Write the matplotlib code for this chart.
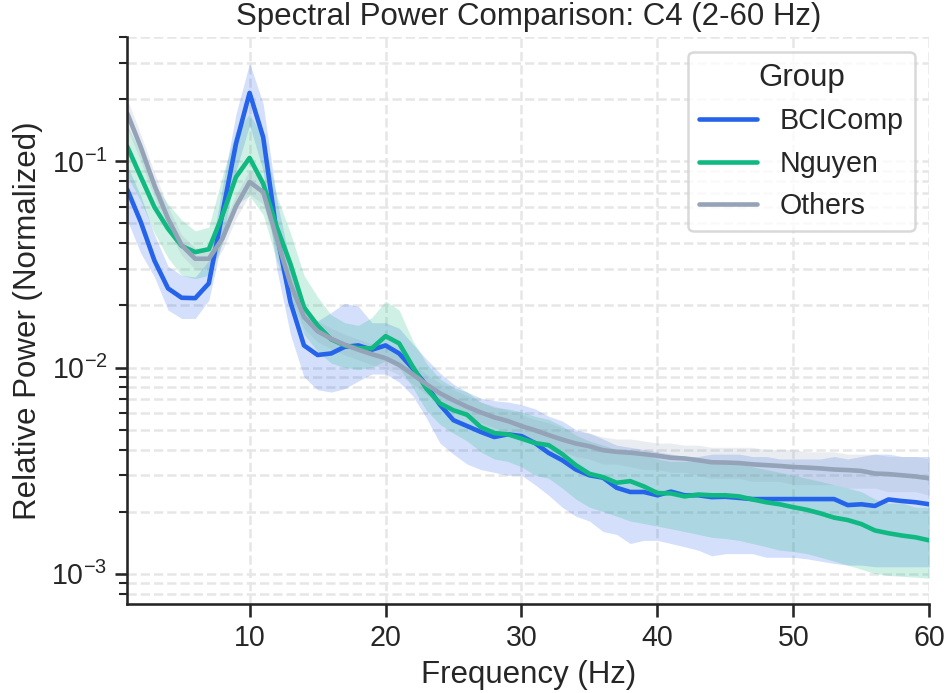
import numpy as np
import matplotlib
matplotlib.use("Agg")
import matplotlib.pyplot as plt
import seaborn as sns

# frequency grid (Hz)
freqs = np.arange(1, 61)

groups = ["BCIComp", "Nguyen", "Others"]
colors = {"BCIComp": "#2563eb", "Nguyen": "#10b981", "Others": "#94a3b8"}

# mean relative power
bci_mean = [0.073, 0.0507, 0.033, 0.0242, 0.0218, 0.0217, 0.0256, 0.056, 0.122, 0.215,
            0.131, 0.0447, 0.0208, 0.0128, 0.0115, 0.0117, 0.0126, 0.0128, 0.0122, 0.0128,
            0.0117, 0.0099, 0.0082, 0.0066, 0.00555, 0.0052, 0.00487, 0.0046, 0.00474, 0.00465,
            0.0043, 0.00385, 0.00355, 0.0032, 0.0030, 0.00292, 0.00261, 0.00249, 0.00249, 0.0024,
            0.0025, 0.0024, 0.0024, 0.00235, 0.00236, 0.00233, 0.0023, 0.0023, 0.0023, 0.0023,
            0.0023, 0.0023, 0.0023, 0.00215, 0.00217, 0.00213, 0.00229, 0.00225, 0.00222, 0.00217]
bci_lo = [0.052, 0.0358, 0.0275, 0.019, 0.0173, 0.0173, 0.0212, 0.042, 0.09, 0.15,
          0.09, 0.030, 0.0145, 0.009, 0.0078, 0.0076, 0.0079, 0.0086, 0.0093, 0.0093,
          0.0085, 0.0073, 0.0057, 0.0043, 0.0038, 0.0034, 0.0032, 0.0031, 0.0030, 0.0030,
          0.0027, 0.0024, 0.0021, 0.0019, 0.0018, 0.0016, 0.00155, 0.0014, 0.00145, 0.00145,
          0.0014, 0.00135, 0.0013, 0.00122, 0.00125, 0.00125, 0.00125, 0.0012, 0.0012, 0.0012,
          0.00118, 0.00115, 0.00112, 0.0011, 0.0011, 0.00108, 0.00108, 0.00108, 0.00108, 0.00108]
bci_hi = [0.095, 0.068, 0.044, 0.031, 0.028, 0.0275, 0.033, 0.075, 0.17, 0.30,
          0.19, 0.065, 0.032, 0.019, 0.0168, 0.0185, 0.0205, 0.0198, 0.0165, 0.0165,
          0.0155, 0.013, 0.011, 0.0094, 0.0083, 0.0076, 0.0071, 0.0069, 0.0068, 0.0066,
          0.0063, 0.0058, 0.0055, 0.0050, 0.0048, 0.0045, 0.0042, 0.0041, 0.0040, 0.0039,
          0.0038, 0.0037, 0.0037, 0.0038, 0.0038, 0.0038, 0.0037, 0.0037, 0.0036, 0.0036,
          0.0036, 0.0036, 0.0037, 0.0036, 0.0037, 0.0038, 0.0038, 0.0037, 0.0037, 0.0037]

ngu_mean = [0.118, 0.084, 0.060, 0.0471, 0.0389, 0.0363, 0.0375, 0.0547, 0.084, 0.104,
            0.078, 0.048, 0.0319, 0.0196, 0.016, 0.0137, 0.0128, 0.0124, 0.0124, 0.0142,
            0.0131, 0.0101, 0.0079, 0.0067, 0.0062, 0.0059, 0.00514, 0.00481, 0.00474, 0.00452,
            0.0043, 0.0042, 0.0038, 0.00336, 0.00305, 0.00294, 0.00276, 0.00281, 0.00265, 0.00246,
            0.00245, 0.00237, 0.00242, 0.0024, 0.0024, 0.00237, 0.00229, 0.00222, 0.00217, 0.0021,
            0.00204, 0.00196, 0.00187, 0.00182, 0.00174, 0.00162, 0.00157, 0.00153, 0.0015, 0.00145]
ngu_lo = [0.085, 0.064, 0.045, 0.034, 0.028, 0.027, 0.028, 0.040, 0.062, 0.068,
          0.055, 0.033, 0.022, 0.0145, 0.012, 0.0105, 0.0100, 0.0098, 0.0100, 0.0108,
          0.0100, 0.0080, 0.0062, 0.0053, 0.0048, 0.0044, 0.0039, 0.0036, 0.0035, 0.0033,
          0.0030, 0.0029, 0.0026, 0.0023, 0.0021, 0.0020, 0.0019, 0.0018, 0.00175, 0.0017,
          0.00165, 0.0016, 0.00155, 0.0015, 0.00148, 0.00145, 0.0014, 0.00135, 0.0013, 0.00128,
          0.00125, 0.0012, 0.00115, 0.0011, 0.00105, 0.0010, 0.00098, 0.00097, 0.00096, 0.00095]
ngu_hi = [0.15, 0.11, 0.078, 0.062, 0.052, 0.046, 0.048, 0.085, 0.14, 0.17,
          0.13, 0.068, 0.045, 0.028, 0.022, 0.018, 0.0165, 0.016, 0.0175, 0.021,
          0.019, 0.0135, 0.0105, 0.0088, 0.0080, 0.0076, 0.0068, 0.0064, 0.0063, 0.0061,
          0.0058, 0.0056, 0.0052, 0.0047, 0.0044, 0.0042, 0.0040, 0.0040, 0.0038, 0.0036,
          0.0035, 0.0035, 0.0035, 0.0035, 0.0035, 0.0034, 0.0033, 0.0032, 0.0031, 0.0030,
          0.0029, 0.0028, 0.0027, 0.0026, 0.0025, 0.0023, 0.0022, 0.0022, 0.0021, 0.0021]

oth_mean = [0.171, 0.117, 0.0765, 0.0527, 0.0392, 0.0337, 0.0337, 0.0422, 0.0605, 0.0794,
            0.071, 0.0422, 0.0255, 0.0176, 0.0150, 0.0138, 0.0129, 0.0122, 0.0116, 0.0111,
            0.0103, 0.00927, 0.0083, 0.0075, 0.00693, 0.00645, 0.00606, 0.00573, 0.0055, 0.0052,
            0.00496, 0.0047, 0.00447, 0.00428, 0.00415, 0.00397, 0.0039, 0.00386, 0.0038, 0.00373,
            0.00365, 0.00362, 0.00355, 0.00347, 0.00346, 0.00344, 0.00339, 0.00336, 0.00333, 0.00329,
            0.00327, 0.00324, 0.0032, 0.00318, 0.00315, 0.00306, 0.00304, 0.0030, 0.00296, 0.0029]
oth_lo = [0.145, 0.10, 0.066, 0.046, 0.035, 0.030, 0.030, 0.037, 0.053, 0.069,
          0.062, 0.036, 0.022, 0.0155, 0.0133, 0.0123, 0.0115, 0.0109, 0.0103, 0.0099,
          0.0092, 0.0083, 0.0074, 0.0067, 0.0062, 0.0057, 0.0054, 0.0051, 0.0049, 0.0046,
          0.0044, 0.0041, 0.0039, 0.0037, 0.0036, 0.0034, 0.0034, 0.0033, 0.0032, 0.0032,
          0.0031, 0.0031, 0.0030, 0.0029, 0.0029, 0.0029, 0.0028, 0.0028, 0.0028, 0.0027,
          0.0027, 0.0027, 0.0027, 0.0026, 0.0026, 0.0026, 0.0025, 0.0025, 0.0025, 0.0024]
oth_hi = [0.20, 0.135, 0.088, 0.060, 0.044, 0.038, 0.038, 0.048, 0.069, 0.091,
          0.081, 0.049, 0.029, 0.020, 0.0168, 0.0155, 0.0145, 0.0137, 0.013, 0.0125,
          0.0116, 0.0104, 0.0093, 0.0084, 0.0078, 0.0073, 0.0068, 0.0065, 0.0062, 0.0059,
          0.0056, 0.0054, 0.0051, 0.0049, 0.0048, 0.0046, 0.0045, 0.0045, 0.0044, 0.0043,
          0.0043, 0.0042, 0.0042, 0.0041, 0.0041, 0.0041, 0.0041, 0.0040, 0.0040, 0.0040,
          0.0039, 0.0039, 0.0039, 0.0038, 0.0038, 0.0038, 0.0037, 0.0037, 0.0037, 0.0036]

series = {
    "BCIComp": (bci_mean, bci_lo, bci_hi),
    "Nguyen": (ngu_mean, ngu_lo, ngu_hi),
    "Others": (oth_mean, oth_lo, oth_hi),
}

sns.set_theme(style="ticks", context="notebook", font_scale=1.25)
plt.rcParams["font.family"] = ["Arial", "Liberation Sans", "DejaVu Sans"]

fig, ax = plt.subplots(figsize=(949 / 150, 693 / 150), dpi=150)
fig.subplots_adjust(left=0.1341, right=0.9792, top=0.9462, bottom=0.128)

for g in groups:
    m, lo, hi = series[g]
    ax.fill_between(freqs, lo, hi, color=colors[g], alpha=0.2, linewidth=0)
    ax.plot(freqs, m, color=colors[g], lw=2.2, label=g)

ax.set_yscale("log")
ax.set_xlim(1, 60)
ax.set_ylim(7.1e-4, 0.4)
ax.set_xticks([10, 20, 30, 40, 50, 60])

ax.grid(True, which="major", axis="both", linestyle="--", color="#e6e6e6", lw=1.2)
ax.grid(True, which="minor", axis="y", linestyle="--", color="#e6e6e6", lw=1.2)
ax.set_axisbelow(True)

ax.set_title("Spectral Power Comparison: C4 (2-60 Hz)")
ax.set_xlabel("Frequency (Hz)")
ax.set_ylabel("Relative Power (Normalized)")
sns.despine(ax=ax)

leg = ax.legend(title="Group", loc="upper right", frameon=True)
leg.get_frame().set_edgecolor("#d0d0d0")
leg.get_frame().set_linewidth(1.2)

fig.savefig("out.png", dpi=150)
